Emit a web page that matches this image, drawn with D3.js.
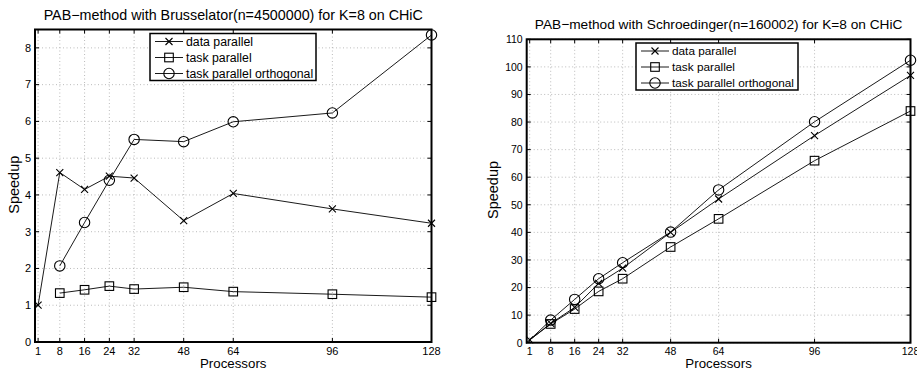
<!DOCTYPE html>
<html>
<head>
<meta charset="utf-8">
<script src="https://cdn.jsdelivr.net/npm/d3@7"></script>
<style>
  body { margin: 0; background: #fff; }
  svg text { font-family: "Liberation Sans", Arial, Helvetica, sans-serif; fill: #000; }
</style>
</head>
<body>
<script>
var procs = [1, 8, 16, 24, 32, 48, 64, 96, 128];
var xTicks = [1, 8, 16, 24, 32, 48, 64, 96, 128];
var seriesNames = ['data parallel', 'task parallel', 'task parallel orthogonal'];

// Brusselator (left)
var brussData = [1.0, 4.61, 4.15, 4.51, 4.46, 3.30, 4.04, 3.62, 3.23];
var brussTask = [null, 1.33, 1.42, 1.52, 1.44, 1.49, 1.37, 1.30, 1.22];
var brussOrth = [null, 2.07, 3.25, 4.40, 5.51, 5.45, 5.99, 6.23, 8.35];
var brussYTicks = [0, 1, 2, 3, 4, 5, 6, 7, 8];

// Schroedinger (right)
var schrData = [1, 7.0, 12.8, 21.5, 27.0, 40.0, 52.1, 75.1, 96.9];
var schrTask = [1, 6.8, 12.2, 18.6, 23.2, 34.7, 44.9, 66.0, 84.0];
var schrOrth = [1, 8.2, 15.7, 23.2, 29.0, 40.1, 55.4, 80.1, 102.4];
var schrYTicks = [0, 10, 20, 30, 40, 50, 60, 70, 80, 90, 100, 110];

var markers = ['x', 'square', 'circle'];

var svg = d3.select('body').append('svg')
    .attr('width', 917)
    .attr('height', 370);

function drawMarker(g, type, x, y) {
  if (type === 'x') {
    g.append('path')
        .attr('d', 'M' + (x - 3.5) + ',' + (y - 3.5) + 'L' + (x + 3.5) + ',' + (y + 3.5) +
                   'M' + (x - 3.5) + ',' + (y + 3.5) + 'L' + (x + 3.5) + ',' + (y - 3.5))
        .attr('stroke', '#000').attr('stroke-width', 1.1).attr('fill', 'none');
  } else if (type === 'square') {
    g.append('rect')
        .attr('x', x - 4.3).attr('y', y - 4.3)
        .attr('width', 8.6).attr('height', 8.6)
        .attr('stroke', '#000').attr('stroke-width', 1.1).attr('fill', 'none');
  } else {
    g.append('circle')
        .attr('cx', x).attr('cy', y).attr('r', 5.2)
        .attr('stroke', '#000').attr('stroke-width', 1.1).attr('fill', 'none');
  }
}

function drawChart(opts) {
  var x = d3.scaleLinear().domain([0, 128]).range([opts.left, opts.right]);
  var y = d3.scaleLinear().domain(opts.yDomain).range([opts.bottom, opts.top]);
  var g = svg.append('g');

  // grid
  g.selectAll('.vgrid').data(xTicks).enter().append('line')
      .attr('x1', function(d) { return x(d); }).attr('x2', function(d) { return x(d); })
      .attr('y1', opts.top).attr('y2', opts.bottom)
      .attr('stroke', '#aaa').attr('stroke-width', 0.8).attr('stroke-dasharray', '1,2.5');
  g.selectAll('.hgrid').data(opts.yTicks).enter().append('line')
      .attr('x1', opts.left).attr('x2', opts.right)
      .attr('y1', function(d) { return y(d); }).attr('y2', function(d) { return y(d); })
      .attr('stroke', '#aaa').attr('stroke-width', 0.8).attr('stroke-dasharray', '1,2.5');

  // inside ticks
  xTicks.forEach(function(t) {
    g.append('line').attr('x1', x(t)).attr('x2', x(t)).attr('y1', opts.bottom).attr('y2', opts.bottom - 4)
        .attr('stroke', '#000').attr('stroke-width', 1);
    g.append('line').attr('x1', x(t)).attr('x2', x(t)).attr('y1', opts.top).attr('y2', opts.top + 4)
        .attr('stroke', '#000').attr('stroke-width', 1);
  });
  opts.yTicks.forEach(function(t) {
    g.append('line').attr('x1', opts.left).attr('x2', opts.left + 4).attr('y1', y(t)).attr('y2', y(t))
        .attr('stroke', '#000').attr('stroke-width', 1);
    g.append('line').attr('x1', opts.right).attr('x2', opts.right - 4).attr('y1', y(t)).attr('y2', y(t))
        .attr('stroke', '#000').attr('stroke-width', 1);
  });

  // tick labels
  g.selectAll('.xlab').data(xTicks).enter().append('text')
      .attr('x', function(d) { return x(d); })
      .attr('y', 355.3)
      .attr('text-anchor', 'middle')
      .style('font-size', opts.tickSize + 'px')
      .text(function(d) { return d; });
  g.selectAll('.ylab').data(opts.yTicks).enter().append('text')
      .attr('x', opts.left - 4)
      .attr('y', function(d) { return y(d) + 3.8; })
      .attr('text-anchor', 'end')
      .style('font-size', opts.tickSize + 'px')
      .text(function(d) { return d; });

  // series
  var line = d3.line()
      .defined(function(d) { return d[1] !== null; })
      .x(function(d) { return x(d[0]); })
      .y(function(d) { return y(d[1]); });
  opts.series.forEach(function(vals, i) {
    var pts = procs.map(function(p, j) { return [p, vals[j]]; });
    g.append('path').datum(pts)
        .attr('d', line)
        .attr('fill', 'none').attr('stroke', '#000').attr('stroke-width', 0.9);
    pts.forEach(function(p) {
      if (p[1] !== null && !(opts.noStartMarker && p[0] === 1 && i > 0)) {
        drawMarker(g, markers[i], x(p[0]), y(p[1]));
      }
    });
  });

  // frame
  g.append('rect')
      .attr('x', opts.left).attr('y', opts.top)
      .attr('width', opts.right - opts.left).attr('height', opts.bottom - opts.top)
      .attr('fill', 'none').attr('stroke', '#000').attr('stroke-width', 2);

  // legend
  var lg = g.append('g');
  lg.append('rect')
      .attr('x', opts.legend[0]).attr('y', opts.legend[1])
      .attr('width', opts.legend[2]).attr('height', 47)
      .attr('fill', '#fff').attr('stroke', '#000').attr('stroke-width', 1.5);
  seriesNames.forEach(function(name, i) {
    var ly = opts.legend[1] + 8 + i * 16;
    var lx = opts.legend[0] + 5;
    lg.append('line').attr('x1', lx).attr('x2', lx + 28).attr('y1', ly).attr('y2', ly)
        .attr('stroke', '#000').attr('stroke-width', 0.9);
    drawMarker(lg, markers[i], lx + 14, ly);
    lg.append('text')
        .attr('x', lx + 31).attr('y', ly + 4.3)
        .style('font-size', opts.legendSize + 'px')
        .text(name);
  });

  // labels
  g.append('text')
      .attr('x', (opts.left + opts.right) / 2)
      .attr('y', opts.top - 10)
      .attr('text-anchor', 'middle')
      .style('font-size', opts.titleSize + 'px')
      .text(opts.title);
  g.append('text')
      .attr('x', (opts.left + opts.right) / 2)
      .attr('y', 368.3)
      .attr('text-anchor', 'middle')
      .style('font-size', '13.3px')
      .text('Processors');
  g.append('text')
      .attr('transform', 'translate(' + opts.yLabelX + ',' + ((opts.top + opts.bottom) / 2 - 1) + ') rotate(-90)')
      .attr('text-anchor', 'middle')
      .style('font-size', '14.5px')
      .text('Speedup');
}

drawChart({
  left: 35, right: 431.5, top: 29.5, bottom: 342,
  yDomain: [0, 8.5], yTicks: brussYTicks,
  series: [brussData, brussTask, brussOrth],
  legend: [150, 33.5, 166],
  title: 'PAB\u2212method with Brusselator(n=4500000) for K=8 on CHiC',
  titleSize: 14.3, legendSize: 12.3, tickSize: 11,
  yLabelX: 18.5
});

drawChart({
  left: 526.7, right: 910.5, top: 39.3, bottom: 342.7,
  yDomain: [0, 110], yTicks: schrYTicks,
  series: [schrData, schrTask, schrOrth],
  noStartMarker: true,
  legend: [636, 43, 162],
  title: 'PAB\u2212method with Schroedinger(n=160002) for K=8 on CHiC',
  titleSize: 13.7, legendSize: 11.8, tickSize: 10.5,
  yLabelX: 498
});
</script>
</body>
</html>
